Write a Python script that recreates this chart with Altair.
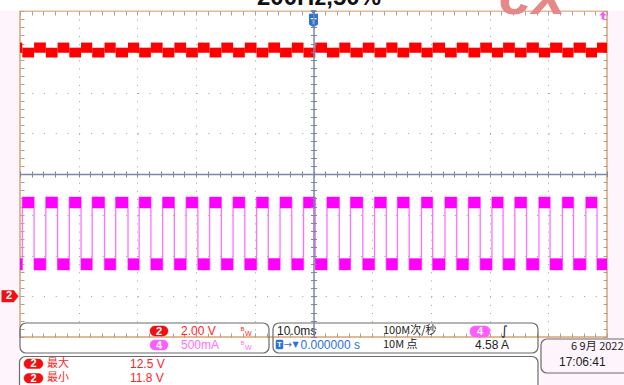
import altair as alt
import pandas as pd

# ---------------- values ----------------
# channel 4 (current) switching edges, in ms relative to the trigger point
rise_ms = [-49.6, -45.6, -41.6, -37.7, -33.7, -29.7, -25.7, -21.7, -17.7, -13.7,
           -9.7, -5.7, -1.7, 2.3, 6.3, 10.4, 14.3, 18.4, 22.4, 26.4, 30.4, 34.3,
           38.4, 42.4, 46.4]
fall_ms = [-47.6, -43.6, -39.6, -35.6, -31.6, -27.7, -23.7, -19.7, -15.7, -11.7,
           -7.7, -3.7, 0.3, 4.4, 8.4, 12.4, 16.3, 20.3, 24.4, 28.4, 32.3, 36.3,
           40.3, 44.3, 48.3]
ch4_high_band_div = [-0.84, -0.56]   # noisy band, screen divisions
ch4_low_band_div = [-2.36, -2.07]
ch2_band_when_ch4_low_v = [11.95, 12.45]   # volts
ch2_band_when_ch4_high_v = [11.72, 12.20]
ch2_volts_per_div = 2.0
ch2_position_div = [-3.0]
trigger_ms = [0.0]

# screen scales
x_domain = [-50, 50]      # 10 ms/div, 10 divisions
y_domain = [-4, 4]        # 8 divisions
major_x = [-40, -30, -20, -10, 0, 10, 20, 30, 40]
minor_x = [round(-50 + 2 * i, 1) for i in range(51)]
major_y = [-3, -2, -1, 0, 1, 2, 3]
minor_y = [round(-4 + 0.2 * i, 2) for i in range(41)]

# ---------------- build trace segments ----------------
edges = sorted(rise_ms + fall_ms)
bounds = [x_domain[0]] + edges + [x_domain[1]]
rows = []
state = "low"
for a, b in zip(bounds[:-1], bounds[1:]):
    c4 = ch4_high_band_div if state == "high" else ch4_low_band_div
    c2 = ch2_band_when_ch4_high_v if state == "high" else ch2_band_when_ch4_low_v
    rows.append(dict(t0=a, t1=b,
                     c4lo=c4[0], c4hi=c4[1],
                     c2lo=c2[0] / ch2_volts_per_div + ch2_position_div[0],
                     c2hi=c2[1] / ch2_volts_per_div + ch2_position_div[0]))
    state = "high" if state == "low" else "low"
seg = pd.DataFrame(rows)
edge_df = pd.DataFrame({"t": edges, "lo": ch4_low_band_div[0], "hi": ch4_high_band_div[1]})
trig_df = pd.DataFrame({"t": trigger_ms})
ch2_df = pd.DataFrame({"d": ch2_position_div})

OX, OY = 20, 11          # plot origin in the window
W, H = 587, 326
xs = alt.Scale(domain=x_domain, nice=False, zero=False)
ys = alt.Scale(domain=y_domain, nice=False, zero=False)
FONT = "Liberation Sans, Noto Sans CJK SC, sans-serif"
CJK = "Noto Sans CJK SC, Liberation Sans, sans-serif"
one = pd.DataFrame({"k": [0]})


def axis(orient, values, **kw):
    base = dict(orient=orient, values=values, labels=False, title=None,
                domain=False, ticks=False, grid=False)
    base.update(kw)
    return alt.Axis(**base)


def axis_layer(xax, yax):
    return alt.Chart(seg).mark_point(opacity=0).encode(
        x=alt.X("t0:Q", scale=xs, axis=xax),
        y=alt.Y("c4lo:Q", scale=ys, axis=yax),
    )


def label(text, x, y, color, size=12, weight="normal", align="left", font=FONT,
          baseline="middle", style="normal"):
    return alt.Chart(one).mark_text(
        text=text, color=color, fontSize=size, fontWeight=weight, align=align,
        baseline=baseline, font=font, fontStyle=style
    ).encode(x=alt.value(x - OX), y=alt.value(y - OY))


def box(x0, y0, x1, y1, stroke="#6b6b6b", fill=None, r=6, sw=1.2):
    kw = dict(cornerRadius=r, stroke=stroke, strokeWidth=sw)
    if fill:
        kw["fill"] = fill
    else:
        kw["fillOpacity"] = 0
    return alt.Chart(one).mark_rect(**kw).encode(
        x=alt.value(x0 - OX), x2=alt.value(x1 - OX),
        y=alt.value(y0 - OY), y2=alt.value(y1 - OY))


def pill(x0, y0, x1, y1, color, text):
    return [box(x0, y0, x1, y1, stroke=color, fill=color, r=5, sw=0.5),
            label(text, (x0 + x1) / 2, (y0 + y1) / 2 + 0.5, "white", 11, "bold", "center")]


GRID = "#a2a2a2"
CENTER = "#7d86a8"
layers = []

# background pieces outside the graticule
layers.append(box(0, 0, 624, 10.5, stroke="white", fill="white", r=0, sw=0))
layers.append(box(20, 338, 540, 385, stroke="white", fill="white", r=0, sw=0))

# watermark and title (both cut by the top of the window)
layers.append(label("ex", 532, 14, "#e58888", 60, "bold", "center",
                    baseline="alphabetic", style="italic"))
layers.append(label("200Hz,50%", 319, 4.5, "#111111", 24, "bold", "center",
                    baseline="alphabetic"))

# graticule
layers.append(axis_layer(
    axis("bottom", major_x, grid=True, gridDash=[1, 7.15], gridColor=GRID, gridWidth=1),
    axis("left", major_y, grid=True, gridDash=[1, 10.74], gridColor=GRID, gridWidth=1)))
layers.append(axis_layer(
    axis("top", minor_x, ticks=True, tickSize=4, offset=-4, tickColor=GRID, tickWidth=1),
    axis("left", minor_y, ticks=True, tickSize=4, offset=-4, tickColor=GRID, tickWidth=1)))
layers.append(axis_layer(
    axis("bottom", minor_x, ticks=True, tickSize=4, offset=-4, tickColor=GRID, tickWidth=1),
    axis("right", minor_y, ticks=True, tickSize=4, offset=-4, tickColor=GRID, tickWidth=1)))

# traces
layers.append(alt.Chart(seg).mark_rect(color="#ff0000").encode(
    x=alt.X("t0:Q", scale=xs, axis=None), x2="t1:Q",
    y=alt.Y("c2lo:Q", scale=ys, axis=None), y2="c2hi:Q"))
layers.append(alt.Chart(edge_df).mark_rule(color="#ff72ff", strokeWidth=1.3).encode(
    x=alt.X("t:Q", scale=xs, axis=None),
    y=alt.Y("lo:Q", scale=ys, axis=None), y2="hi:Q"))
layers.append(alt.Chart(seg).mark_rect(color="#ff00ff").encode(
    x=alt.X("t0:Q", scale=xs, axis=None), x2="t1:Q",
    y=alt.Y("c4lo:Q", scale=ys, axis=None), y2="c4hi:Q"))

# centre cross with crossing ticks
layers.append(axis_layer(
    axis("bottom", minor_x, ticks=True, tickSize=3, offset=-163, tickColor=CENTER,
         domain=True, domainColor=CENTER, domainWidth=1.5, zindex=1),
    axis("left", minor_y, ticks=True, tickSize=3, offset=-293.5, tickColor=CENTER,
         domain=True, domainColor=CENTER, domainWidth=1.5, zindex=1)))
layers.append(axis_layer(
    axis("top", minor_x, ticks=True, tickSize=3, offset=-163, tickColor=CENTER, zindex=1),
    axis("right", minor_y, ticks=True, tickSize=3, offset=-293.5, tickColor=CENTER, zindex=1)))

# trigger marker
BLUE = "#2a72dc"
layers.append(alt.Chart(trig_df).mark_point(
    shape="M-1,-1.5 L1,-1.5 L1,0.9 L0,1.5 L-1,0.9 Z", size=81, filled=True,
    color=BLUE, opacity=1).encode(x=alt.X("t:Q", scale=xs, axis=None), y=alt.value(20.5 - OY)))
layers.append(alt.Chart(trig_df).mark_point(
    shape="triangle-down", size=30, filled=True, color=BLUE, opacity=1).encode(
    x=alt.X("t:Q", scale=xs, axis=None), y=alt.value(12.5 - OY)))
layers.append(alt.Chart(trig_df).mark_text(
    text="T", color="white", fontSize=9, fontWeight="bold", font=FONT, baseline="middle").encode(
    x=alt.X("t:Q", scale=xs, axis=None), y=alt.value(20.5 - OY)))

# channel 2 ground marker on the left
layers.append(alt.Chart(ch2_df).mark_point(
    shape="M-1,-0.7 L0.45,-0.7 L1,0 L0.45,0.7 L-1,0.7 Z", size=289, filled=True,
    color="#ee1111", opacity=1).encode(x=alt.value(10 - OX), y=alt.Y("d:Q", scale=ys, axis=None)))
layers.append(alt.Chart(ch2_df).mark_text(
    text="2", color="white", fontSize=11, fontWeight="bold", font=FONT, baseline="middle").encode(
    x=alt.value(9 - OX), y=alt.Y("d:Q", scale=ys, axis=None)))

# channel 4 trigger-level arrow top right
layers.append(alt.Chart(one).mark_point(
    shape="M0,-1 L0.9,0 L0.35,0 L0.35,1 L-0.35,1 L-0.35,0 L-0.9,0 Z", size=64,
    filled=True, color="#ff55ff", opacity=1).encode(x=alt.value(603 - OX), y=alt.value(15.5 - OY)))

# info boxes
RED = "#ff2424"
MAG = "#ff5cff"
MAGT = "#ff6eff"
BLK = "#222222"
layers.append(box(20, 323, 269, 353))
layers += pill(150, 326, 168, 336, "#ee1111", "2")
layers.append(label("2.00 V", 181, 331, RED, 12))
layers.append(label("B", 240.5, 329, RED, 6))
layers.append(label("W", 245, 334, RED, 7))
layers += pill(150, 340, 168, 350, MAG, "4")
layers.append(label("500mA", 181, 345, MAGT, 12))
layers.append(label("B", 240.5, 343, MAGT, 6))
layers.append(label("W", 245, 348, MAGT, 7))

layers.append(box(273, 323, 538, 353))
layers.append(label("10.0ms", 277, 331, BLK, 12))
layers.append(box(276, 340, 283, 349, stroke=BLUE, fill=BLUE, r=1, sw=0.5))
layers.append(label("T", 279.5, 344.8, "white", 8, "bold", "center"))
layers.append(label("→", 283.5, 344.5, BLUE, 10, font="DejaVu Sans"))
layers.append(label("▼", 292.5, 345, BLUE, 8, font="DejaVu Sans"))
layers.append(label("0.000000 s", 300.5, 345, BLUE, 12))
layers.append(label("100M次/秒", 383, 331, BLK, 11, font=CJK))
layers.append(label("10M 点", 383, 345, BLK, 11, font=CJK))
layers += pill(470, 326, 490, 337, MAG, "4")
layers.append(label("∫", 501, 331, BLK, 13, font="DejaVu Sans"))
layers.append(label("4.58 A", 475, 345, BLK, 12))

layers.append(box(541, 339, 632, 373, fill="#fdf5fb"))
layers.append(label("6 9月 2022", 571, 347, BLK, 11, font=CJK))
layers.append(label("17:06:41", 559, 361.5, BLK, 12))

layers.append(box(19.5, 356.5, 538, 396, fill="white"))
layers += pill(24, 359, 43, 368.5, "#ee1111", "2")
layers.append(label("最大", 47, 364, RED, 11, font=CJK))
layers.append(label("12.5 V", 130, 364, RED, 12))
layers += pill(24, 373.5, 43, 383, "#ee1111", "2")
layers.append(label("最小", 47, 378, RED, 11, font=CJK))
layers.append(label("11.8 V", 130, 378, RED, 12))

chart = alt.layer(*layers).resolve_axis(x="independent", y="independent").properties(
    width=W, height=H,
    autosize="none",
    padding={"left": OX, "top": OY, "right": 624 - OX - W, "bottom": 385 - OY - H},
    background="#fdf5fb",
).configure_view(fill="white", stroke="#d9a574", strokeWidth=1.5)

chart.save("out.html", embed_options={"renderer": "svg", "actions": False})
